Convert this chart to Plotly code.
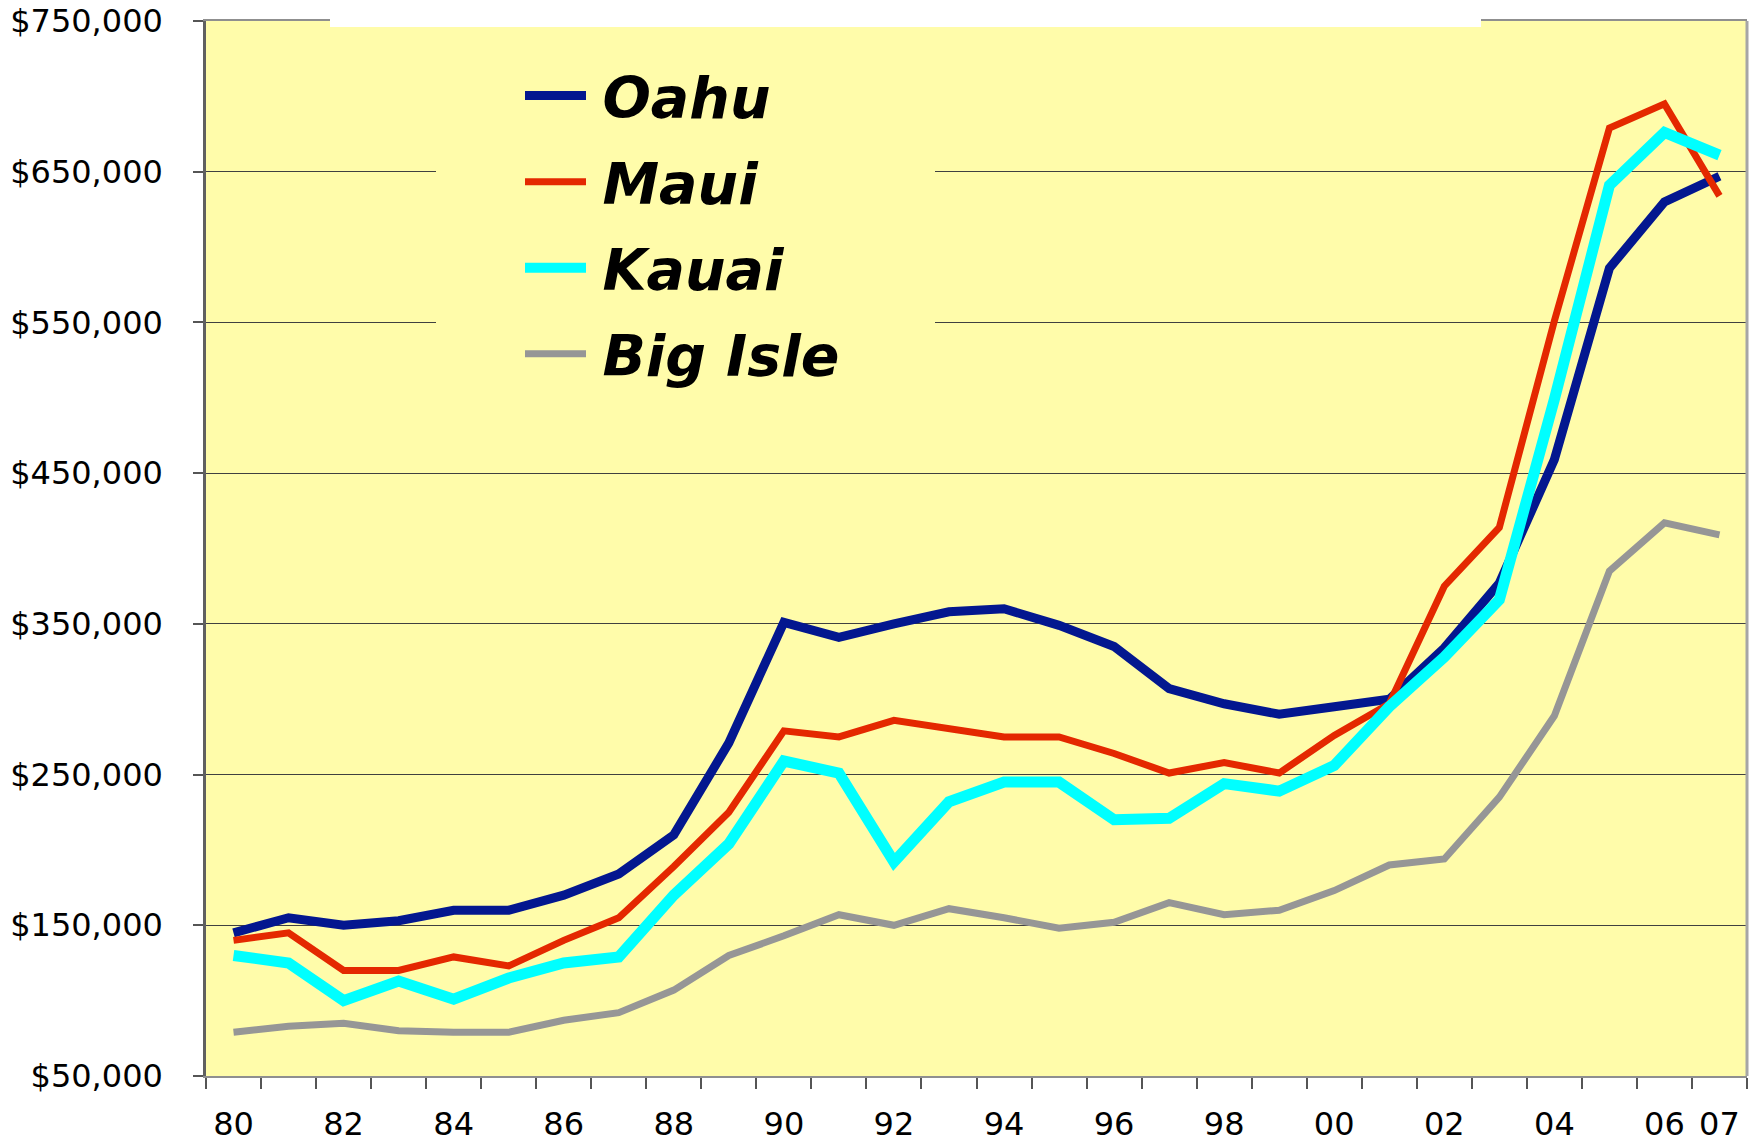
import plotly.graph_objects as go

years = list(range(1980, 2008))
tick_years = list(range(1980, 2007, 2)) + [2007]
tick_labels = [str(y)[2:] for y in tick_years]

oahu = [145, 155, 150, 153, 160, 160, 170, 184, 210, 271, 351, 341, 350, 358,
        360, 349, 335, 307, 297, 290, 295, 300, 334, 377, 459, 586, 630, 647]
maui = [140, 145, 120, 120, 129, 123, 140, 155, 189, 225, 279, 275, 286, 280,
        275, 275, 264, 251, 258, 251, 276, 297, 375, 414, 551, 679, 695, 634]
kauai = [130, 125, 100, 113, 101, 115, 125, 129, 170, 204, 259, 251, 192, 232,
         245, 245, 220, 221, 244, 239, 256, 295, 328, 366, 499, 641, 676, 661]
big_isle = [79, 83, 85, 80, 79, 79, 87, 92, 107, 130, 143, 157, 150, 161,
            155, 148, 152, 165, 157, 160, 173, 190, 194, 235, 289, 385, 417, 409]

series = [
    ("Oahu", oahu, "#03178F", 9),
    ("Maui", maui, "#E42800", 7),
    ("Kauai", kauai, "#00FFFF", 11),
    ("Big Isle", big_isle, "#969696", 7),
]

# page is 1752x1143; body margin is removed so the figure fills the page
W, H = 1752, 1143
# plot area in page pixels: left 206, right 1747, top 21, bottom 1076
ML = 206
MT = 21
MR = W - 1747
MB = H - 1076
PW, PH = W - ML - MR, H - MT - MB


def px(x):
    return (x - ML) / PW


def py(y):
    return 1 - (y - MT) / PH


fig = go.Figure()
for name, vals, color, width in series:
    fig.add_trace(go.Scatter(
        x=years, y=[v * 1000 for v in vals], name="\u2009" + name, mode="lines",
        legendgroup=name,
        line=dict(color=color, width=width),
    ))

tick_font = dict(family="DejaVu Sans", size=32, color="black")

fig.update_layout(
    width=W, height=H,
    margin=dict(l=ML, r=MR, t=MT, b=MB, autoexpand=False),
    paper_bgcolor="white",
    plot_bgcolor="#FFFCAA",
    showlegend=True,
    legend=dict(
        x=px(520), y=py(52), xanchor="left", yanchor="top",
        bgcolor="rgba(0,0,0,0)",
        font=dict(family="DejaVu Sans", size=57, color="black",
                  weight="bold", style="italic"),
        itemwidth=61, tracegroupgap=9,
    ),
    xaxis=dict(
        range=[1979.5, 2007.5],
        tickmode="array", tickvals=tick_years, ticktext=tick_labels,
        ticks="", ticklabelstandoff=19, ticklabeloverflow="allow",
        showgrid=False, zeroline=False, automargin=False,
        showline=True, linecolor="#8f8f8f", linewidth=2, mirror=True,
        tickfont=tick_font,
        minor=dict(
            tickmode="array",
            tickvals=[y - 0.5 for y in years] + [years[-1] + 0.5],
            ticks="outside", ticklen=11, tickcolor="#555555", tickwidth=1.5,
            showgrid=False,
        ),
    ),
    yaxis=dict(
        range=[50000, 750000],
        tick0=50000, dtick=100000,
        tickformat="$,.0f",
        ticks="outside", ticklen=10, tickcolor="#555555", tickwidth=1.5,
        ticklabelstandoff=24, ticklabeloverflow="allow",
        showgrid=True, gridcolor="#404040", gridwidth=1.3,
        zeroline=False, automargin=False,
        showline=True, linecolor="#606060", linewidth=2.5,
        tickfont=tick_font,
    ),
    shapes=[
        # legend area background hiding gridlines
        dict(type="rect", xref="paper", yref="paper",
             x0=px(436), x1=px(935), y0=py(400), y1=py(29),
             fillcolor="#FFFCAA", line=dict(width=0), layer="above"),
        # white band at top of plot area
        dict(type="rect", xref="paper", yref="paper",
             x0=px(330), x1=px(1481), y0=py(27), y1=py(10),
             fillcolor="white", line=dict(width=0), layer="above"),
        # right border
        dict(type="line", xref="paper", yref="paper",
             x0=1, x1=1, y0=0, y1=1,
             line=dict(color="#a6a6a6", width=3), layer="above"),
    ],
)

fig.write_html("out.html", config={"displayModeBar": False},
               post_script="document.body.style.margin='0px';")
